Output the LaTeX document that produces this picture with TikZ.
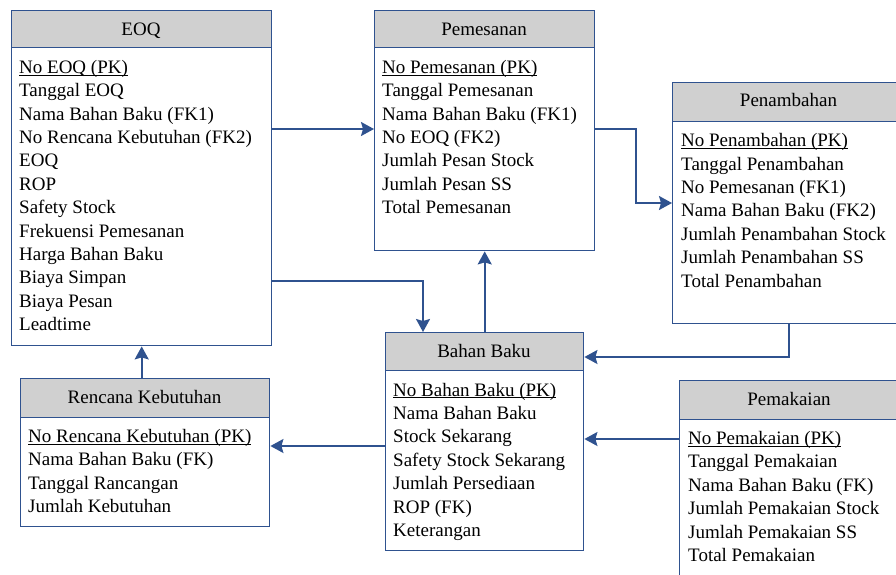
\documentclass[tikz,border=0pt]{standalone}
\usepackage{fontspec}
\setmainfont{Liberation Serif}
\usetikzlibrary{arrows.meta}
\definecolor{bord}{HTML}{2F528F}
\definecolor{hdrgray}{HTML}{D0D0D0}
\newcommand\pkline[1]{\setbox0\hbox{#1}\rlap{\rule[-2.2pt]{\wd0}{0.9pt}}\box0}
\tikzset{
  hdr/.style={draw=bord, fill=hdrgray, line width=1.4pt, rectangle, anchor=north west, inner sep=0pt},
  bodybox/.style={draw=bord, fill=white, line width=1.4pt, rectangle, anchor=north west, inner sep=0pt},
  htext/.style={anchor=base, inner sep=0pt},
  btext/.style={anchor=base west, inner sep=0pt},
  conn/.style={draw=bord, line width=1.8pt, -{Stealth[length=13pt,width=14pt,inset=2pt]}}
}
\begin{document}
\begin{tikzpicture}[x=1pt,y=-1pt,font=\fontsize{19}{23.4}\selectfont]
\useasboundingbox (0,0) rectangle (896,574);
\clip (0,0) rectangle (896,574);
\fill[white] (0,0) rectangle (896,574);

% EOQ
\node[hdr, minimum width=260pt, minimum height=37pt] (eoqH) at (11,10) {};
\node[bodybox, minimum width=260pt, minimum height=298pt] (eoqB) at (11,47) {};
\node[htext] (eoqT) at (141,35.5) {EOQ};
\node[btext] (eoqL) at (19,73.3) {\begin{tabular}[t]{@{}l@{}}\pkline{No EOQ (PK)}\\Tanggal EOQ\\Nama Bahan Baku (FK1)\\No Rencana Kebutuhan (FK2)\\EOQ\\ROP\\Safety Stock\\Frekuensi Pemesanan\\Harga Bahan Baku\\Biaya Simpan\\Biaya Pesan\\Leadtime\end{tabular}};

% Pemesanan
\node[hdr, minimum width=220pt, minimum height=37pt] (pemH) at (374,10) {};
\node[bodybox, minimum width=220pt, minimum height=203pt] (pemB) at (374,47) {};
\node[htext] (pemT) at (484,35.5) {Pemesanan};
\node[btext] (pemL) at (382,73.3) {\begin{tabular}[t]{@{}l@{}}\pkline{No Pemesanan (PK)}\\Tanggal Pemesanan\\Nama Bahan Baku (FK1)\\No EOQ (FK2)\\Jumlah Pesan Stock\\Jumlah Pesan SS\\Total Pemesanan\end{tabular}};

% Penambahan
\node[hdr, minimum width=233pt, minimum height=39pt] (penH) at (672,82) {};
\node[bodybox, minimum width=233pt, minimum height=202pt] (penB) at (672,121) {};
\node[htext] (penT) at (788.5,106.5) {Penambahan};
\node[btext] (penL) at (681,146.7) {\begin{tabular}[t]{@{}l@{}}\pkline{No Penambahan (PK)}\\Tanggal Penambahan\\No Pemesanan (FK1)\\Nama Bahan Baku (FK2)\\Jumlah Penambahan Stock\\Jumlah Penambahan SS\\Total Penambahan\end{tabular}};

% Bahan Baku
\node[hdr, minimum width=198pt, minimum height=38pt] (bbH) at (385,332) {};
\node[bodybox, minimum width=198pt, minimum height=180pt] (bbB) at (385,370) {};
\node[htext] (bbT) at (484,357) {Bahan Baku};
\node[btext] (bbL) at (393,396) {\begin{tabular}[t]{@{}l@{}}\pkline{No Bahan Baku (PK)}\\Nama Bahan Baku\\Stock Sekarang\\Safety Stock Sekarang\\Jumlah Persediaan\\ROP (FK)\\Keterangan\end{tabular}};

% Rencana Kebutuhan
\node[hdr, minimum width=249pt, minimum height=39pt] (rkH) at (20,378) {};
\node[bodybox, minimum width=249pt, minimum height=109pt] (rkB) at (20,417) {};
\node[htext] (rkT) at (144.5,403) {Rencana Kebutuhan};
\node[btext] (rkL) at (28,442.5) {\begin{tabular}[t]{@{}l@{}}\pkline{No Rencana Kebutuhan (PK)}\\Nama Bahan Baku (FK)\\Tanggal Rancangan\\Jumlah Kebutuhan\end{tabular}};

% Pemakaian
\node[hdr, minimum width=220pt, minimum height=39pt] (pmkH) at (679,380) {};
\node[bodybox, minimum width=220pt, minimum height=200pt] (pmkB) at (679,419) {};
\node[htext] (pmkT) at (789,405) {Pemakaian};
\node[btext] (pmkL) at (688,444.5) {\begin{tabular}[t]{@{}l@{}}\pkline{No Pemakaian (PK)}\\Tanggal Pemakaian\\Nama Bahan Baku (FK)\\Jumlah Pemakaian Stock\\Jumlah Pemakaian SS\\Total Pemakaian\end{tabular}};

% helper coordinates
\coordinate (r129) at (0,129);
\coordinate (r281) at (0,281);
\coordinate (r203) at (0,203);
\coordinate (r357) at (0,357);
\coordinate (r439) at (0,439);
\coordinate (r446) at (0,446);
\coordinate (x423) at (423,0);
\coordinate (x636) at (636,0);

% connectors
\draw[conn] (eoqB.east |- r129) -- (pemB.west |- r129);
\draw[conn] (eoqB.east |- r281) -| (x423 |- bbH.north);
\draw[conn] (bbH.north) -- (pemB.south);
\draw[conn] (pemB.east |- r129) -| (x636 |- r203) -- (penB.west |- r203);
\draw[conn] (penB.south) |- (bbH.east |- r357);
\draw[conn] (pmkB.west |- r439) -- (bbB.east |- r439);
\draw[conn] (bbB.west |- r446) -- (rkB.east |- r446);
\draw[conn] (eoqB.south |- rkH.north) -- (eoqB.south);
\end{tikzpicture}
\end{document}
